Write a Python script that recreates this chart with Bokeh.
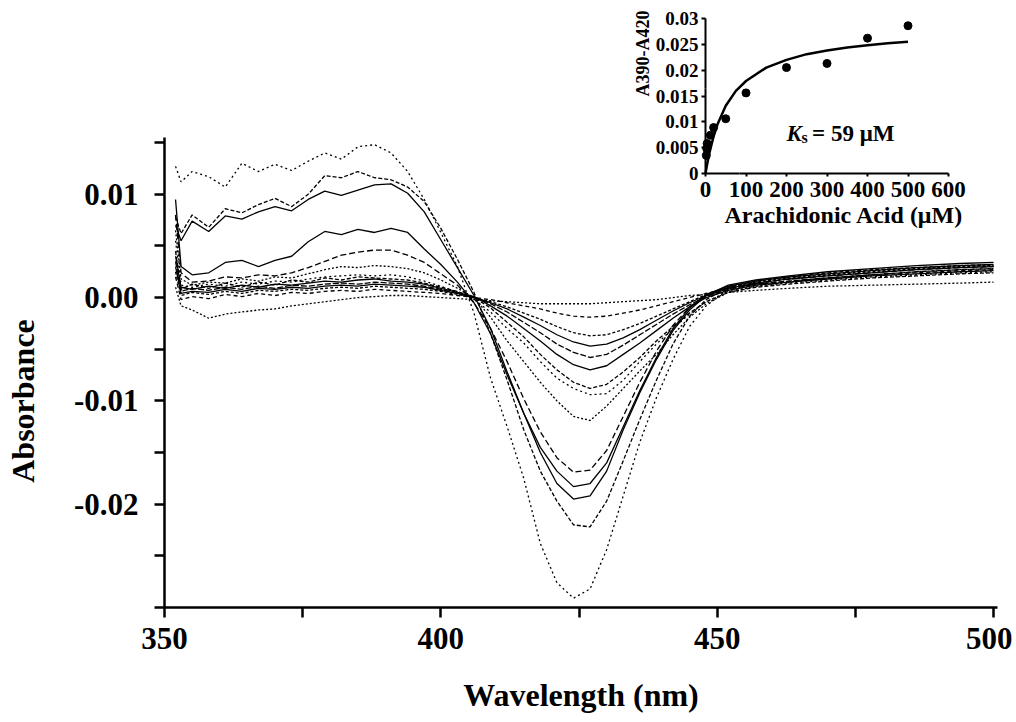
from bokeh.plotting import figure
from bokeh.models import (Range1d, LinearAxis, FixedTicker, PrintfTickFormatter,
                          CustomJSTickFormatter, Label)
from bokeh.embed import file_html
from bokeh.resources import INLINE

# ---------------- main panel data: difference spectra ----------------
wavelength = [352, 353, 355, 358, 361, 364, 367, 370, 373, 376, 379, 382, 385, 388,
              391, 394, 397, 400, 403, 406, 409, 412, 415, 418, 421, 424, 427, 430,
              433, 436, 439, 442, 445, 448, 452, 457, 463, 470, 478, 486, 494, 500]

spec_01 = [0.0127, 0.0112, 0.0122, 0.0117, 0.0107, 0.0130, 0.0122, 0.0129, 0.0123, 0.0132,
           0.0140, 0.0134, 0.0146, 0.0148, 0.0140, 0.0122, 0.0095, 0.0063, 0.0030, -0.0015,
           -0.0078, -0.0125, -0.0175, -0.0238, -0.0276, -0.0291, -0.0282, -0.0244, -0.0192,
           -0.0140, -0.0097, -0.0060, -0.0028, -0.0008, 0.0008, 0.0014, 0.0018, 0.0022,
           0.0026, 0.0028, 0.0030, 0.0031]
spec_02 = [0.0078, 0.0062, 0.0080, 0.0068, 0.0086, 0.0082, 0.0090, 0.0096, 0.0088, 0.0100,
           0.0118, 0.0116, 0.0122, 0.0116, 0.0114, 0.0107, 0.0093, 0.0067, 0.0037, 0.0005,
           -0.0035, -0.0080, -0.0128, -0.0168, -0.0197, -0.0220, -0.0222, -0.0197, -0.0158,
           -0.0118, -0.0080, -0.0045, -0.0018, -0.0002, 0.0010, 0.0016, 0.0020, 0.0024,
           0.0027, 0.0029, 0.0031, 0.0032]
spec_03 = [0.0070, 0.0055, 0.0074, 0.0064, 0.0079, 0.0076, 0.0083, 0.0088, 0.0084, 0.0095,
           0.0103, 0.0099, 0.0104, 0.0109, 0.0110, 0.0101, 0.0083, 0.0056, 0.0029, 0.0002,
           -0.0030, -0.0072, -0.0112, -0.0150, -0.0180, -0.0195, -0.0192, -0.0168, -0.0128,
           -0.0092, -0.0060, -0.0032, -0.0012, 0.0002, 0.0012, 0.0017, 0.0021, 0.0025,
           0.0028, 0.0031, 0.0033, 0.0034]
spec_04 = [0.0095, 0.0030, 0.0022, 0.0024, 0.0034, 0.0036, 0.0030, 0.0036, 0.0040, 0.0054,
           0.0064, 0.0061, 0.0066, 0.0063, 0.0067, 0.0063, 0.0047, 0.0032, 0.0015, -0.0005,
           -0.0035, -0.0075, -0.0112, -0.0145, -0.0168, -0.0183, -0.0180, -0.0160, -0.0125,
           -0.0090, -0.0058, -0.0030, -0.0010, 0.0003, 0.0011, 0.0016, 0.0020, 0.0023,
           0.0026, 0.0029, 0.0031, 0.0032]
spec_05 = [0.0080, 0.0024, 0.0015, 0.0016, 0.0020, 0.0019, 0.0022, 0.0021, 0.0024, 0.0029,
           0.0035, 0.0041, 0.0044, 0.0046, 0.0046, 0.0041, 0.0034, 0.0023, 0.0012, -0.0005,
           -0.0030, -0.0062, -0.0098, -0.0130, -0.0155, -0.0169, -0.0167, -0.0148, -0.0115,
           -0.0082, -0.0052, -0.0027, -0.0009, 0.0002, 0.0010, 0.0014, 0.0018, 0.0021,
           0.0024, 0.0027, 0.0029, 0.0030]
spec_06 = [0.0065, 0.0018, 0.0012, 0.0015, 0.0014, 0.0018, 0.0016, 0.0020, 0.0019, 0.0023,
           0.0027, 0.0030, 0.0029, 0.0031, 0.0030, 0.0028, 0.0024, 0.0017, 0.0009, 0.0000,
           -0.0019, -0.0042, -0.0062, -0.0082, -0.0100, -0.0115, -0.0119, -0.0105, -0.0088,
           -0.0071, -0.0055, -0.0036, -0.0019, -0.0006, 0.0005, 0.0011, 0.0015, 0.0019,
           0.0022, 0.0025, 0.0027, 0.0028]
spec_07 = [0.0055, 0.0012, 0.0010, 0.0013, 0.0011, 0.0015, 0.0013, 0.0016, 0.0015, 0.0018,
           0.0020, 0.0021, 0.0022, 0.0021, 0.0022, 0.0020, 0.0016, 0.0011, 0.0005, -0.0002,
           -0.0014, -0.0030, -0.0044, -0.0062, -0.0078, -0.0088, -0.0094, -0.0093, -0.0080,
           -0.0062, -0.0045, -0.0030, -0.0016, -0.0004, 0.0006, 0.0011, 0.0014, 0.0017,
           0.0020, 0.0022, 0.0024, 0.0025]
spec_08 = [0.0045, 0.0008, 0.0013, 0.0009, 0.0014, 0.0010, 0.0015, 0.0012, 0.0017, 0.0015,
           0.0019, 0.0017, 0.0020, 0.0019, 0.0018, 0.0017, 0.0014, 0.0010, 0.0006, 0.0000,
           -0.0010, -0.0024, -0.0038, -0.0055, -0.0070, -0.0082, -0.0088, -0.0084, -0.0072,
           -0.0058, -0.0042, -0.0028, -0.0015, -0.0004, 0.0005, 0.0010, 0.0013, 0.0016,
           0.0019, 0.0021, 0.0023, 0.0024]
spec_09 = [0.0040, 0.0010, 0.0008, 0.0011, 0.0009, 0.0012, 0.0010, 0.0013, 0.0012, 0.0014,
           0.0016, 0.0015, 0.0017, 0.0018, 0.0016, 0.0015, 0.0013, 0.0009, 0.0005, 0.0001,
           -0.0008, -0.0018, -0.0030, -0.0042, -0.0055, -0.0065, -0.0070, -0.0066, -0.0055,
           -0.0044, -0.0032, -0.0020, -0.0009, 0.0000, 0.0007, 0.0012, 0.0015, 0.0018,
           0.0021, 0.0023, 0.0025, 0.0026]
spec_10 = [0.0035, 0.0006, 0.0009, 0.0007, 0.0010, 0.0008, 0.0011, 0.0009, 0.0012, 0.0011,
           0.0013, 0.0014, 0.0013, 0.0015, 0.0014, 0.0013, 0.0011, 0.0008, 0.0004, 0.0000,
           -0.0006, -0.0014, -0.0024, -0.0034, -0.0045, -0.0053, -0.0058, -0.0055, -0.0046,
           -0.0036, -0.0026, -0.0016, -0.0007, 0.0001, 0.0008, 0.0013, 0.0016, 0.0019,
           0.0022, 0.0025, 0.0027, 0.0028]
spec_11 = [0.0030, 0.0004, 0.0006, 0.0005, 0.0008, 0.0006, 0.0009, 0.0008, 0.0010, 0.0009,
           0.0011, 0.0012, 0.0011, 0.0013, 0.0012, 0.0011, 0.0010, 0.0007, 0.0004, 0.0000,
           -0.0005, -0.0011, -0.0019, -0.0027, -0.0036, -0.0043, -0.0047, -0.0045, -0.0039,
           -0.0031, -0.0022, -0.0013, -0.0005, 0.0002, 0.0009, 0.0014, 0.0018, 0.0021,
           0.0024, 0.0027, 0.0029, 0.0030]
spec_12 = [0.0025, 0.0002, 0.0005, 0.0003, 0.0006, 0.0004, 0.0007, 0.0006, 0.0008, 0.0007,
           0.0009, 0.0010, 0.0009, 0.0011, 0.0010, 0.0009, 0.0008, 0.0006, 0.0003, 0.0000,
           -0.0004, -0.0009, -0.0015, -0.0021, -0.0028, -0.0034, -0.0037, -0.0036, -0.0031,
           -0.0025, -0.0018, -0.0011, -0.0004, 0.0003, 0.0010, 0.0015, 0.0019, 0.0022,
           0.0025, 0.0028, 0.0030, 0.0031]
spec_13 = [0.0020, -0.0002, 0.0001, -0.0001, 0.0003, 0.0001, 0.0004, 0.0002, 0.0005, 0.0004,
           0.0006, 0.0007, 0.0006, 0.0008, 0.0007, 0.0006, 0.0005, 0.0004, 0.0002, 0.0000,
           -0.0002, -0.0005, -0.0008, -0.0011, -0.0015, -0.0018, -0.0019, -0.0018, -0.0015,
           -0.0012, -0.0008, -0.0004, 0.0000, 0.0004, 0.0009, 0.0013, 0.0016, 0.0019,
           0.0022, 0.0024, 0.0026, 0.0027]
spec_14 = [0.0010, -0.0008, -0.0012, -0.0020, -0.0016, -0.0014, -0.0012, -0.0011, -0.0008,
           -0.0006, -0.0004, -0.0002, 0.0000, 0.0001, 0.0002, 0.0002, 0.0001, 0.0000, -0.0001,
           -0.0002, -0.0003, -0.0004, -0.0005, -0.0006, -0.0006, -0.0006, -0.0006, -0.0005,
           -0.0004, -0.0003, -0.0002, 0.0000, 0.0002, 0.0003, 0.0005, 0.0007, 0.0009, 0.0011,
           0.0012, 0.0013, 0.0014, 0.0015]

spectra = [spec_01, spec_02, spec_03, spec_04, spec_05, spec_06, spec_07,
           spec_08, spec_09, spec_10, spec_11, spec_12, spec_13, spec_14]
dashes = ["2 3", "4 2", "solid", "solid", "6 3", "2 2", "2 3",
          "4 2", "solid", "6 2", "solid", "3 2", "4 3", "2 2"]

x_ticks = [350, 400, 450, 500]
x_minor = [375, 425, 475]
y_ticks = [-0.02, -0.01, 0.0, 0.01]
y_minor = [-0.03, -0.025, -0.015, -0.005, 0.005]
y_top_tick = [0.015]

# ---------------- inset data: binding titration ----------------
conc_uM = [2, 3, 4, 12, 20, 50, 100, 200, 300, 400, 500]
delta_A = [0.0035, 0.0048, 0.0058, 0.0074, 0.0089, 0.0106, 0.0156, 0.0205, 0.0213, 0.0262, 0.0286]
fit_conc = [0, 2, 5, 10, 20, 30, 50, 75, 100, 150, 200, 250, 300, 350, 400, 450, 500]
fit_dA = [0.0, 0.0009, 0.0022, 0.0041, 0.0072, 0.0096, 0.0131, 0.0160, 0.0179, 0.0205,
          0.0220, 0.0231, 0.0238, 0.0244, 0.0248, 0.0252, 0.0255]
inset_x_ticks = [100, 200, 300, 400, 500, 600]
inset_y_ticks = [0.0, 0.005, 0.01, 0.015, 0.02, 0.025, 0.03]

FONT = "Liberation Serif"

# the frame covers the whole canvas; axes are pinned at 350 nm / -0.03
p = figure(width=1012, height=720, output_backend="svg", toolbar_location=None,
           x_range=Range1d(320.33, 503.43), y_range=Range1d(-0.04094, 0.02837),
           x_axis_type=None, y_axis_type=None, title=None,
           min_border_left=0, min_border_right=0, min_border_top=4, min_border_bottom=0)
p.outline_line_color = None
p.background_fill_color = "white"
p.border_fill_color = "white"
p.extra_x_ranges = {"ix": Range1d(-1740.7, 758.0)}
p.extra_y_ranges = {"iy": Range1d(-0.10587, 0.03271)}


def style_axis(ax, lw, tick, font_px, label_px):
    ax.axis_line_width = lw
    ax.axis_line_color = "black"
    ax.major_tick_line_width = lw
    ax.minor_tick_line_width = lw
    ax.major_tick_line_color = "black"
    ax.minor_tick_line_color = "black"
    ax.major_tick_out = tick
    ax.major_tick_in = 0
    ax.minor_tick_out = tick
    ax.minor_tick_in = 0
    ax.major_label_text_font = FONT
    ax.major_label_text_font_style = "bold"
    ax.major_label_text_font_size = font_px
    ax.major_label_text_color = "black"
    ax.axis_label_text_font = FONT
    ax.axis_label_text_font_style = "bold"
    ax.axis_label_text_font_size = label_px
    ax.axis_label_text_color = "black"


# main x axis
xax = LinearAxis(fixed_location=-0.03, bounds=(350, 500.72),
                 ticker=FixedTicker(ticks=x_ticks, minor_ticks=x_minor),
                 axis_label="Wavelength (nm)")
style_axis(xax, 2.5, 10, "31px", "32px")
xax.major_label_standoff = 11
xax.axis_label_standoff = 24
p.add_layout(xax, "below")

# main y axis (labelled part) + its short top extension
yax = LinearAxis(fixed_location=350, bounds=(-0.03, 0.01),
                 ticker=FixedTicker(ticks=y_ticks, minor_ticks=y_minor),
                 formatter=PrintfTickFormatter(format="%.2f"),
                 axis_label="Absorbance")
style_axis(yax, 2.5, 10, "31px", "32px")
yax.major_label_standoff = 16
yax.axis_label_standoff = 30
p.add_layout(yax, "left")

yax_top = LinearAxis(fixed_location=350, bounds=(0.01, 0.0155),
                     ticker=FixedTicker(ticks=y_top_tick))
style_axis(yax_top, 2.5, 10, "31px", "32px")
yax_top.major_label_text_color = None
p.add_layout(yax_top, "left")

for vals, dash in zip(spectra, dashes):
    p.line(wavelength, vals, line_color="black", line_width=1.3, line_dash=dash)

# ---------------- inset ----------------
inset_fmt = CustomJSTickFormatter(code="return String(Math.round(tick*1000)/1000);")

iy_low = LinearAxis(x_range_name="ix", y_range_name="iy", fixed_location=0,
                    bounds=(0, 0.0164), ticker=FixedTicker(ticks=inset_y_ticks[:4]),
                    formatter=inset_fmt)
style_axis(iy_low, 2, 4, "19px", "18px")
iy_low.major_label_standoff = 3
p.add_layout(iy_low, "left")

iy_up = LinearAxis(x_range_name="ix", y_range_name="iy", fixed_location=0,
                   bounds=(0.0164, 0.03), ticker=FixedTicker(ticks=inset_y_ticks[4:]),
                   formatter=inset_fmt, axis_label="A390-A420")
style_axis(iy_up, 2, 4, "19px", "18px")
iy_up.major_label_standoff = 3
iy_up.axis_label_standoff = 0
p.add_layout(iy_up, "left")

ix_low = LinearAxis(x_range_name="ix", y_range_name="iy", fixed_location=0,
                    bounds=(0, 84), ticker=FixedTicker(ticks=[0]))
style_axis(ix_low, 2, 3, "23px", "24px")
ix_low.major_label_standoff = 5
p.add_layout(ix_low, "below")

ix_up = LinearAxis(x_range_name="ix", y_range_name="iy", fixed_location=0,
                   bounds=(84, 600), ticker=FixedTicker(ticks=inset_x_ticks),
                   axis_label="Arachidonic Acid (\u03bcM)")
style_axis(ix_up, 2, 3, "23px", "24px")
ix_up.major_label_standoff = 5
ix_up.axis_label_standoff = 2
p.add_layout(ix_up, "below")

p.line(fit_conc, fit_dA, x_range_name="ix", y_range_name="iy",
       line_color="black", line_width=2.5)
p.scatter(conc_uM, delta_A, x_range_name="ix", y_range_name="iy",
          size=8, fill_color="black", line_color="black")

ks_common = dict(x_range_name="ix", y_range_name="iy", text_font=FONT,
                 text_color="black", text_baseline="alphabetic")
p.add_layout(Label(x=200, y=0.0077, text="K", text_font_style="bold italic",
                   text_font_size="23px", **ks_common))
p.add_layout(Label(x=237, y=0.0069, text="s", text_font_style="bold",
                   text_font_size="16px", **ks_common))
p.add_layout(Label(x=263, y=0.0077, text="= 59 \u03bcM", text_font_style="bold",
                   text_font_size="23px", **ks_common))

open("out.html", "w").write(file_html(p, INLINE))
